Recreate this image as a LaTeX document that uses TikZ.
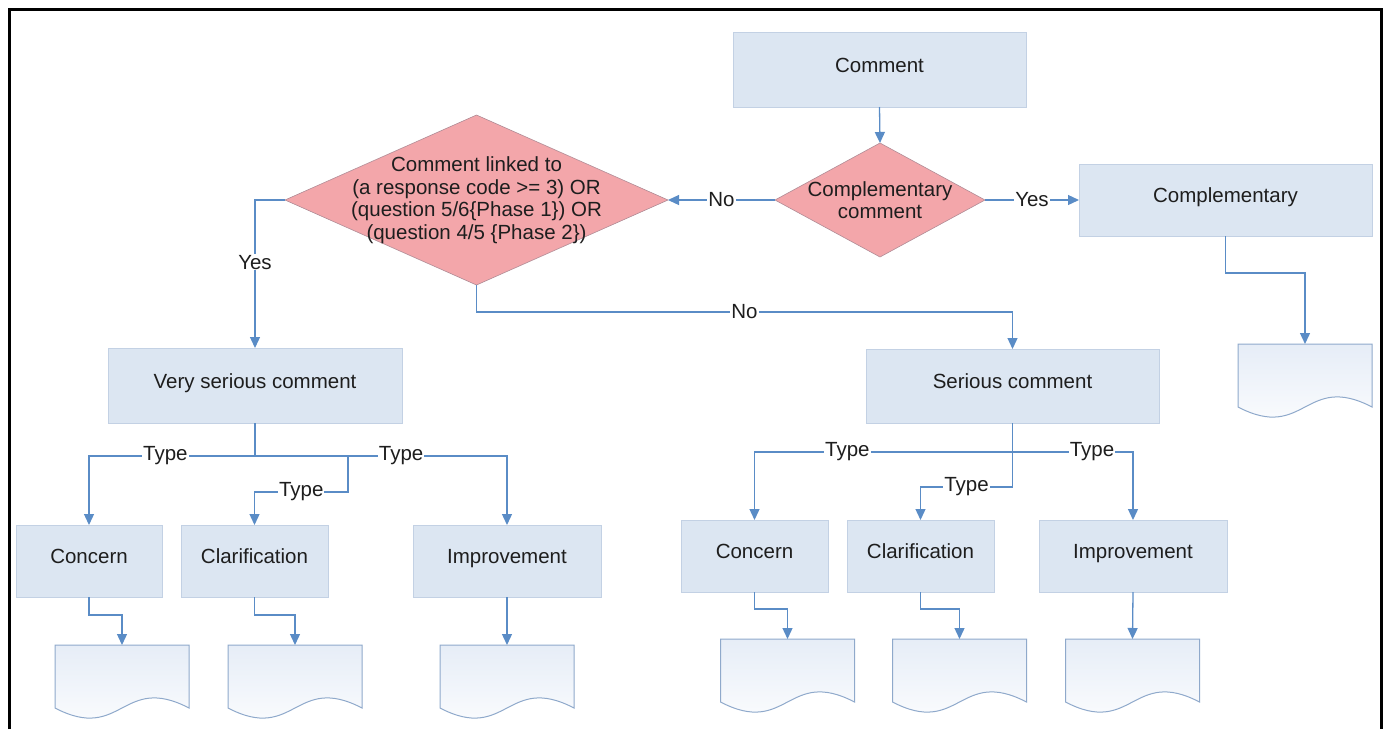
\documentclass[tikz,border=0pt]{standalone}
\usepackage{fontspec}
\setmainfont{Liberation Sans}
\usetikzlibrary{shapes.geometric,arrows.meta}
\definecolor{boxfill}{HTML}{DCE6F2}
\definecolor{boxline}{HTML}{C3D1E4}
\definecolor{decfill}{HTML}{F3A6AA}
\definecolor{decline}{HTML}{B08C96}
\definecolor{connblue}{HTML}{5A8CC6}
\definecolor{docline}{HTML}{8FA9CB}
\definecolor{docfill}{HTML}{E6EDF7}
\definecolor{ink}{HTML}{1E1E1E}

% document symbol with a wavy lower edge, drawn over an anchor-only node
\newcommand\docwave[1]{%
  \shadedraw[top color=docfill, bottom color=white, draw=docline, line width=1pt]
    (#1.south west) -- (#1.north west) -- (#1.north east) -- (#1.south east)
    .. controls ([xshift=-67pt,yshift=35pt]#1.south east)
       and ([xshift=67pt,yshift=-35pt]#1.south west) .. (#1.south west) -- cycle;}

\begin{document}
\begin{tikzpicture}[x=1pt,y=-1pt,
  every node/.style={font=\fontsize{20.5}{22.5}\selectfont, text=ink},
  procbox/.style={rectangle, fill=boxfill, draw=boxline, line width=0.8pt, inner sep=0pt, outer sep=0pt,
    text height=0.72em, text depth=0.21em},
  decision/.style={diamond, fill=decfill, draw=decline, line width=0.6pt, inner sep=0pt, outer sep=0pt},
  decisiontext/.style={align=center, inner sep=0pt},
  flow/.style={draw=connblue, line width=1.3pt, -{Triangle[length=11pt,width=10pt]}},
  plain/.style={draw=connblue, line width=1.3pt},
  lbl/.style={fill=white, inner sep=1pt},
  docarea/.style={rectangle, minimum width=134pt, minimum height=63pt, inner sep=0pt, outer sep=0pt, anchor=north},
]
\useasboundingbox (0,0) rectangle (1389,729);

% outer frame, open at the bottom
\draw[line width=3.5pt, black] (9.5,729) -- (9.5,9.5) -- (1381.5,9.5) -- (1381.5,729);

% top of the flow
\node[procbox, minimum width=293pt, minimum height=75pt] (comment) at (879.5,69.5) {Comment};
\node[decision, minimum width=210pt, minimum height=114pt] (cdec) at (880,200) {};
\node[decisiontext] (cdectext) at (cdec) {Complementary\\comment};
\node[decision, minimum width=383pt, minimum height=170pt] (sdec) at (476.5,200) {};
\node[decisiontext] (sdectext) at (sdec) {Comment linked to\\(a response code >= 3) OR\\(question 5/6\{Phase 1\}) OR\\(question 4/5 \{Phase 2\})};
\node[procbox, minimum width=293pt, minimum height=72pt] (compl) at (1225.5,200) {Complementary};

% severity
\node[procbox, minimum width=294pt, minimum height=75pt] (vser) at (255,385.5) {Very serious comment};
\node[procbox, minimum width=293pt, minimum height=74pt] (ser) at (1012.5,386) {Serious comment};

% comment types
\node[procbox, minimum width=146pt, minimum height=72pt] (conA) at (89,561) {Concern};
\node[procbox, minimum width=147pt, minimum height=72pt] (claA) at (254.5,561) {Clarification};
\node[procbox, minimum width=188pt, minimum height=72pt] (impA) at (507,561) {Improvement};
\node[procbox, minimum width=147pt, minimum height=72pt] (conB) at (754.5,556) {Concern};
\node[procbox, minimum width=147pt, minimum height=72pt] (claB) at (920.5,556) {Clarification};
\node[procbox, minimum width=188pt, minimum height=72pt] (impB) at (1133,556) {Improvement};

% documents
\node[docarea] (docA1) at (122,645) {};
\node[docarea] (docA2) at (295,645) {};
\node[docarea] (docA3) at (507,645) {};
\node[docarea] (docB1) at (787.5,639) {};
\node[docarea] (docB2) at (959.5,639) {};
\node[docarea] (docB3) at (1132.5,639) {};
\node[docarea] (docC) at (1305,344) {};
\docwave{docA1}\docwave{docA2}\docwave{docA3}
\docwave{docB1}\docwave{docB2}\docwave{docB3}
\docwave{docC}

% decisions
\draw[flow] (comment.south) -- (cdec.north);
\draw[flow] (cdec.west) -- node[lbl]{No} (sdec.east);
\draw[flow] (cdec.east) -- node[lbl]{Yes} (compl.west);
\draw[flow] (sdec.west) -| node[lbl,pos=0.71]{Yes} (vser.north);
\coordinate (nobend) at (1012.5,312);
\draw[flow] (sdec.south) |- node[lbl,pos=0.75]{No} (nobend) -- (ser.north);

% very serious branches
\coordinate (vbus) at (255,456);
\coordinate (vfork) at (348,456);
\coordinate (vfork2) at (348,492);
\draw[plain] (vser.south) -- (vbus);
\draw[flow] (vbus) -| node[lbl,pos=0.27]{Type} (conA.north);
\draw[flow] (vbus) -| node[lbl,pos=0.29]{Type} (impA.north);
\draw[flow] (vfork) -- (vfork2) -| node[lbl,pos=0.25]{Type} (claA.north);

% serious branches
\coordinate (sbus) at (1012.5,452);
\coordinate (sfork) at (1012.5,487);
\draw[plain] (ser.south) -- (sfork);
\draw[flow] (sbus) -| node[lbl,pos=0.32]{Type} (conB.north);
\draw[flow] (sbus) -| node[lbl,pos=0.33]{Type} (impB.north);
\draw[flow] (sfork) -| node[lbl,pos=0.25]{Type} (claB.north);

% to the documents
\draw[flow] (conA.south) -- ++(0,18) -| (docA1.north);
\draw[flow] (claA.south) -- ++(0,18) -| (docA2.north);
\draw[flow] (impA.south) -- (docA3.north);
\draw[flow] (conB.south) -- ++(0,17) -| (docB1.north);
\draw[flow] (claB.south) -- ++(0,17) -| (docB2.north);
\draw[flow] (impB.south) -- (docB3.north);
\draw[flow] (compl.south) -- ++(0,37) -| (docC.north);
\end{tikzpicture}
\end{document}
